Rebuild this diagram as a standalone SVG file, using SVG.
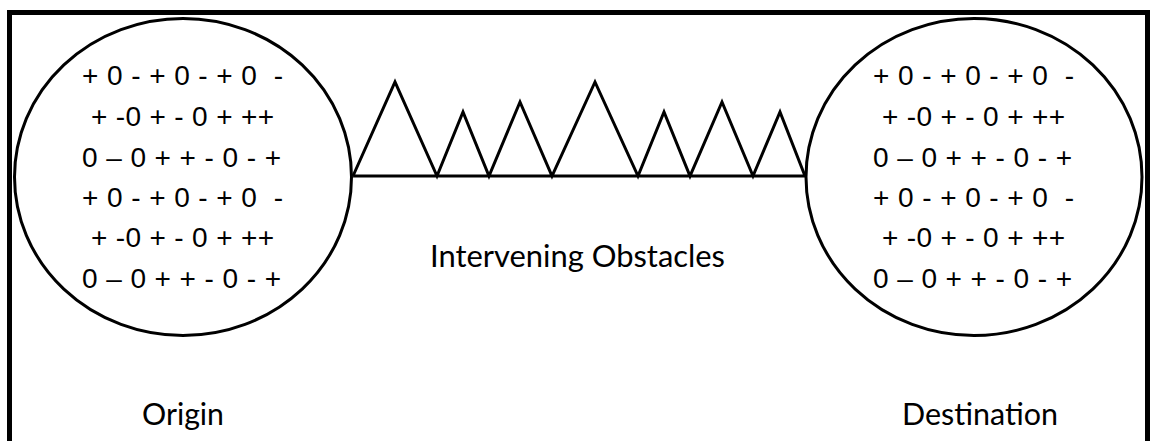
<svg xmlns="http://www.w3.org/2000/svg" width="1151" height="441" viewBox="0 0 1151 441">
<style>
.frame{fill:none;stroke:#000;stroke-width:5}
.node{fill:#fff;stroke:#000;stroke-width:3}
.edge{fill:none;stroke:#000;stroke-width:3;stroke-linejoin:miter}
.cell{font-family:"Liberation Sans",Arial,sans-serif;font-size:28px;fill:#000}
.lbl{font-family:Lato,"Open Sans",sans-serif;font-size:30px;fill:#000}
</style>
<rect width="1151" height="441" fill="#fff"/>
<rect class="frame" x="9.5" y="12.5" width="1138" height="440"/>
<g id="connectors">
<path class="edge" d="M353,176 L805,176 M353,176 L395,82 L437,176 L463,112 L489,176 L520,102 L552,176 L595,82 L638,176 L664,112 L690,176 L722,102 L753,176 L780,112 L805,176"/>
<text class="lbl" x="430" y="267" textLength="295" lengthAdjust="spacingAndGlyphs">Intervening Obstacles</text>
</g>
<g id="origin">
<ellipse class="node" cx="183" cy="177" rx="168.5" ry="158.5"/>
<text class="cell" xml:space="preserve" x="82" y="85" textLength="201">+ 0 - + 0 - + 0  -</text>
<text class="cell" xml:space="preserve" x="91" y="126" textLength="183">+ -0 + - 0 + ++</text>
<text class="cell" xml:space="preserve" x="82" y="167" textLength="199">0 – 0 + + - 0 - +</text>
<text class="cell" xml:space="preserve" x="82" y="207" textLength="201">+ 0 - + 0 - + 0  -</text>
<text class="cell" xml:space="preserve" x="91" y="247" textLength="183">+ -0 + - 0 + ++</text>
<text class="cell" xml:space="preserve" x="82" y="288" textLength="199">0 – 0 + + - 0 - +</text>
<text class="lbl" x="142" y="425" textLength="82" lengthAdjust="spacingAndGlyphs">Origin</text>
</g>
<g id="destination">
<ellipse class="node" cx="974" cy="177" rx="168" ry="158.5"/>
<text class="cell" xml:space="preserve" x="873" y="85" textLength="201">+ 0 - + 0 - + 0  -</text>
<text class="cell" xml:space="preserve" x="882" y="126" textLength="183">+ -0 + - 0 + ++</text>
<text class="cell" xml:space="preserve" x="873" y="167" textLength="199">0 – 0 + + - 0 - +</text>
<text class="cell" xml:space="preserve" x="873" y="207" textLength="201">+ 0 - + 0 - + 0  -</text>
<text class="cell" xml:space="preserve" x="882" y="247" textLength="183">+ -0 + - 0 + ++</text>
<text class="cell" xml:space="preserve" x="873" y="288" textLength="199">0 – 0 + + - 0 - +</text>
<text class="lbl" x="902" y="425" textLength="156" lengthAdjust="spacingAndGlyphs">Destination</text>
</g>
</svg>
